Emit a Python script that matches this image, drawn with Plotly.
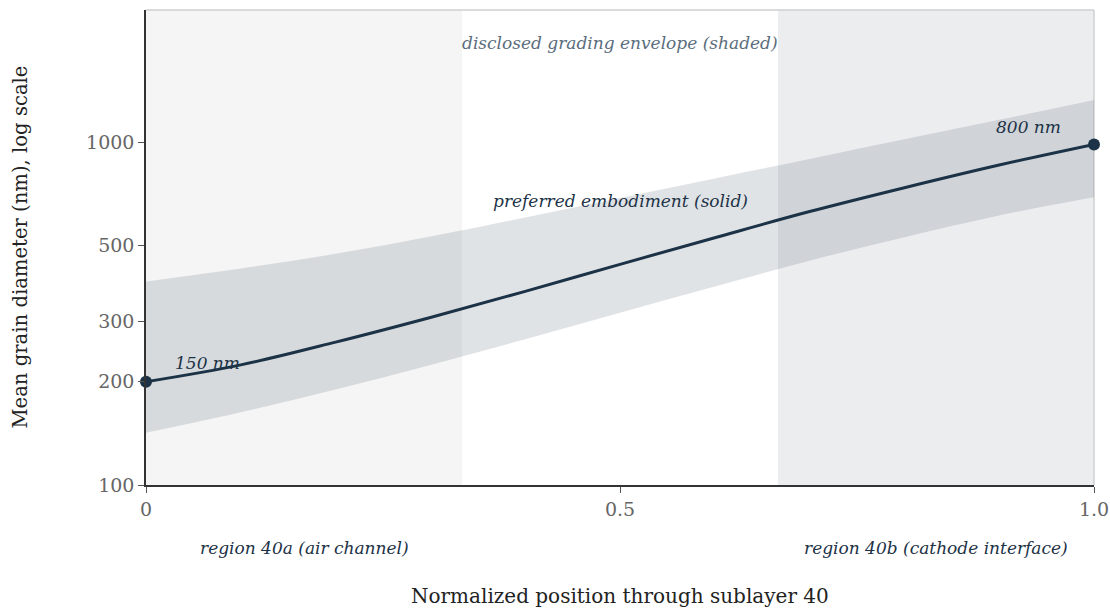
import plotly.graph_objects as go

# Normalized position through sublayer 40 (0 = air channel side, 1 = cathode side)
position = [0.0, 0.1, 0.2, 0.3, 0.4, 0.5, 0.6, 0.7, 0.8, 0.9, 1.0]

# Preferred embodiment: mean grain diameter (nm)
preferred_nm = [200, 224, 261, 308, 367, 440, 526, 627, 736, 857, 984]

# Disclosed grading envelope bounds (nm)
envelope_upper_nm = [392, 428, 472, 530, 603, 687, 783, 893, 1019, 1161, 1327]
envelope_lower_nm = [142, 163, 190, 224, 266, 318, 379, 451, 528, 611, 690]

# Axis ticks
y_ticks = [100, 200, 300, 500, 1000]
x_ticks = [0, 0.5, 1.0]
x_tick_labels = ["0", "0.5", "1.0"]

# Sub-regions of the layer (start, end, tint, label)
region_spans = [
    (0.0, 1 / 3, "#f4f5f4", "region 40a (air channel)"),
    (2 / 3, 1.0, "#ecedef", "region 40b (cathode interface)"),
]

FONT = "DejaVu Serif"
NAVY = "#1c3246"
NOTE_SIZE = 17

fig = go.Figure()

# Envelope band
fig.add_trace(go.Scatter(
    x=position, y=envelope_lower_nm, mode="lines",
    line=dict(width=0, shape="spline"), hoverinfo="skip", showlegend=False,
))
fig.add_trace(go.Scatter(
    x=position, y=envelope_upper_nm, mode="lines",
    line=dict(width=0, shape="spline"), fill="tonexty",
    fillcolor="rgba(60,80,100,0.16)", hoverinfo="skip", showlegend=False,
))

# Preferred embodiment curve
fig.add_trace(go.Scatter(
    x=position, y=preferred_nm, mode="lines",
    line=dict(color=NAVY, width=3, shape="spline"), showlegend=False,
))

# End points
fig.add_trace(go.Scatter(
    x=[position[0], position[-1]], y=[preferred_nm[0], preferred_nm[-1]],
    mode="markers", marker=dict(color=NAVY, size=12),
    cliponaxis=False, showlegend=False,
))

shapes = []
for x0, x1, tint, _ in region_spans:
    shapes.append(dict(type="rect", xref="x", yref="paper", x0=x0, x1=x1, y0=0, y1=1,
                       fillcolor=tint, line=dict(width=0), layer="below"))
# Light frame on top and right edges
shapes.append(dict(type="line", xref="paper", yref="paper", x0=0, x1=1, y0=1, y1=1,
                   line=dict(color="#cfcfcf", width=1.5), layer="above"))
shapes.append(dict(type="line", xref="paper", yref="paper", x0=1, x1=1, y0=0, y1=1,
                   line=dict(color="#cfcfcf", width=1.5), layer="below"))

annotations = [
    dict(text="disclosed grading envelope (shaded)", x=0.5, y=0.9305,
         font=dict(family=FONT, size=NOTE_SIZE, color="#5b6d7c", style="italic")),
    dict(text="preferred embodiment (solid)", x=0.5, y=0.598,
         font=dict(family=FONT, size=NOTE_SIZE, color=NAVY, style="italic")),
    dict(text="150 nm", x=0.0654, y=0.257,
         font=dict(family=FONT, size=NOTE_SIZE, color=NAVY, style="italic")),
    dict(text="800 nm", x=0.931, y=0.7537,
         font=dict(family=FONT, size=NOTE_SIZE, color=NAVY, style="italic")),
    dict(text="Normalized position through sublayer 40", x=0.5, y=-0.2337,
         font=dict(family=FONT, size=20, color="#222222")),
    dict(text="Mean grain diameter (nm), log scale", x=-0.1329, y=0.5, textangle=-90,
         font=dict(family=FONT, size=19.6, color="#222222")),
]
for x0, x1, _, label in region_spans:
    annotations.append(dict(text=label, x=(x0 + x1) / 2, y=-0.1326,
                            font=dict(family=FONT, size=NOTE_SIZE, color=NAVY, style="italic")))
for a in annotations:
    a.update(xref="paper", yref="paper", showarrow=False, xanchor="center", yanchor="middle")

axis_common = dict(
    showgrid=False, zeroline=False, showline=True, linecolor="#333333", linewidth=1.5,
    ticks="outside", ticklen=6, tickcolor="#555555", automargin=False,
    tickfont=dict(family=FONT, size=19, color="#666666"),
)

fig.update_layout(
    width=1110, height=612,
    margin=dict(l=146, r=16, t=10, b=127),
    paper_bgcolor="white", plot_bgcolor="white",
    font=dict(family=FONT),
    shapes=shapes, annotations=annotations,
    xaxis=dict(range=[0, 1], tickvals=x_ticks, ticktext=x_tick_labels, **axis_common),
    yaxis=dict(type="log", range=[2, 3.385], tickvals=y_ticks,
               ticktext=[str(v) for v in y_ticks], **axis_common),
)

fig.write_html("out.html")
